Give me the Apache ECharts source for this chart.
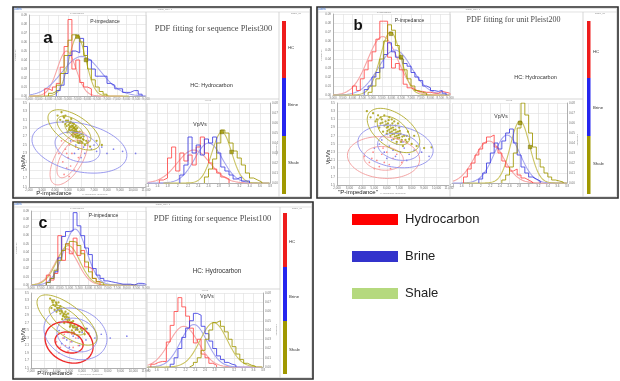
<!DOCTYPE html>
<html><head><meta charset="utf-8">
<script src="https://cdn.jsdelivr.net/npm/echarts/dist/echarts.min.js"></script>
<style>html,body{margin:0;padding:0;background:#fff}#c{width:620px;height:381px}</style>
</head><body><div id="c"></div>
<script>
// ---------------- DATA ----------------
const classNames = ['Hydrocarbon', 'Brine', 'Shale'];
const colorbarLabels = ['HC', 'Brine', 'Shale'];
const panelLetters = ['a', 'b', 'c'];
const panelTitles = ['PDF fitting for sequence Pleist300', 'PDF fitting for unit Pleist200', 'PDF fitting for sequence Pleist100'];
const pimpBinStart = 3000, pimpBinWidth = 200;
const vpvsBinStart = 1.4, vpvsBinWidth = 0.08;

// panel a
const a_pimp_hc    = [0,0,0,0,8,6,10,14,32,55,85,30,40,15,10,8,0,0,0,0,0,0,0,0,0,0,0,0,0,0];
const a_pimp_brine = [0,0,0,0,0,0,0,6,12,25,45,50,48,64,55,40,30,22,22,22,14,12,8,8,4,4,6,6,2,0];
const a_pimp_shale = [0,0,0,0,0,3,5,12,25,45,62,68,66,60,45,30,18,10,5,2,0,0,0,0,0,0,0,0,0,0];
const a_vpvs_hc    = [0,0,0,3,5,25,36,12,30,22,28,18,36,46,30,20,14,10,6,4,0,0,0,0,0,0,0,0,0,0];
const a_vpvs_brine = [0,0,0,0,0,0,0,0,8,18,46,30,38,28,44,40,46,30,16,12,8,4,6,2,2,0,0,0,0,0];
const a_vpvs_shale = [0,0,0,0,0,0,0,0,0,0,0,0,0,0,6,14,24,40,53,50,40,32,25,18,10,5,3,1,0,0];
const a_pimp_fit_hc = [4930,480,50], a_pimp_fit_brine = [5700,1000,44], a_pimp_fit_shale = [5480,440,66];
const a_vpvs_fit_hc = [2.31,0.32,33], a_vpvs_fit_brine = [2.6,0.27,40], a_vpvs_fit_shale = [2.86,0.19,51];
const a_pimp_marks = [[5480,66],[5920,40]];
const a_vpvs_marks = [[2.86,51],[3.05,31]];
const a_ell_hc    = [[5080,2.18,1460,0.63,0.6],[5110,2.17,960,0.45,0.6]];
const a_ell_brine = [[5880,2.44,3650,0.61,-0.3],[5730,2.45,1730,0.36,-0.3]];
const a_ell_shale = [[5460,2.86,2000,0.48,-0.6],[5460,2.86,1300,0.33,-0.6],[5460,2.86,700,0.18,-0.6]];
const a_pts_shale = [[4200,3.2],[4400,3.1],[4500,3.28],[4600,3.05],[4700,3.15],[4800,3.0],[4900,2.95],[5000,3.08],[5100,2.9],[5150,3.02],[5200,2.85],[5300,2.96],[5350,2.8],[5400,2.9],[5450,2.84],[5500,2.76],[5550,2.88],[5600,2.8],[5650,2.7],[5700,2.78],[5750,2.66],[5800,2.72],[5900,2.6],[6000,2.68],[6100,2.56],[6200,2.62],[6300,2.5],[6500,2.56],[6700,2.46],[5250,3.12],[5600,2.95],[4950,2.8],[6050,2.76],[5800,2.55],[5400,2.7],[7200,2.6],[7600,2.5],[5050,2.98],[5500,2.92],[5700,2.9],[5900,2.74],[6200,2.7],[4800,3.2],[5350,3.02],
  [5250,2.92],[5320,2.86],[5380,2.95],[5420,2.78],[5480,2.9],[5520,2.82],[5580,2.74],[5620,2.86],[5680,2.82],[5720,2.72],[5780,2.8],[5850,2.68],[5950,2.66],[5150,2.94],[5080,2.86],[5300,2.74],[5600,2.68],[5900,2.82],[6150,2.64],[6400,2.6],[4850,3.08],[4650,3.18],[5200,3.05],[5450,3.0],[5750,2.6],[6000,2.58]];
const a_pts_brine = [[5200,2.6],[5600,2.5],[5900,2.55],[6200,2.45],[6500,2.5],[6800,2.4],[7200,2.35],[7600,2.45],[8000,2.3],[8500,2.4],[9200,2.35],[10200,2.3],[5500,2.3],[6000,2.2],[6600,2.6],[7000,2.5],[6300,2.3],[5800,2.4]];
const a_pts_hc    = [[4300,2.3],[4600,2.1],[4800,2.4],[4900,1.95],[5000,2.2],[5100,2.5],[5200,2.0],[5300,2.3],[5400,2.6],[5500,1.9],[4700,1.8],[5600,2.45],[5800,2.2],[4500,2.6],[5100,1.75],[4900,2.3]];

// panel b
const b_pimp_hc    = [0,0,0,0,0,10,5,18,28,38,48,62,82,82,42,30,35,28,12,8,6,4,4,3,3,2,2,4,3,2];
const b_pimp_brine = [0,0,0,0,0,0,0,0,6,10,20,25,30,45,58,48,42,40,35,32,25,20,16,10,8,5,4,5,2,0];
const b_pimp_shale = [0,0,0,0,0,0,0,0,0,3,10,18,40,60,78,72,55,40,28,18,10,5,3,2,0,0,0,0,0,0];
const b_vpvs_hc    = [0,0,0,6,14,20,28,34,40,46,48,36,30,22,16,12,14,8,5,3,1,0,0,0,0,0,0,0,0,0];
const b_vpvs_brine = [0,0,0,0,0,0,0,4,10,20,30,40,34,42,50,54,40,28,16,10,6,4,2,0,0,0,0,0,0,0];
const b_vpvs_shale = [0,0,0,0,0,0,0,0,0,0,0,0,0,3,8,16,30,55,80,68,50,36,24,16,10,6,3,2,1,0];
const b_pimp_fit_hc = [5550,770,65], b_pimp_fit_brine = [6180,850,50], b_pimp_fit_shale = [5950,525,70];
const b_vpvs_fit_hc = [2.17,0.3,42], b_vpvs_fit_brine = [2.55,0.27,48], b_vpvs_fit_shale = [2.82,0.2,62];
const b_pimp_marks = [[5975,68],[6490,42]];
const b_vpvs_marks = [[2.82,60],[3.03,36]];
const b_ell_hc    = [[5740,2.17,2900,0.51,-0.1],[5740,2.15,1590,0.29,-0.1]];
const b_ell_brine = [[6700,2.44,3025,0.52,-0.2],[6970,2.43,1710,0.33,-0.2]];
const b_ell_shale = [[6540,2.83,2110,0.54,-0.5],[6540,2.83,1300,0.35,-0.5]];
const b_pts_shale = [[4400,3.3],[4700,3.15],[4900,3.25],[5100,3.05],[5300,3.2],[5500,3.0],[5600,3.1],[5800,2.95],[5900,3.05],[6000,2.9],[6100,3.0],[6200,2.85],[6300,2.95],[6400,2.8],[6500,2.9],[6600,2.75],[6700,2.85],[6800,2.7],[6900,2.8],[7000,2.65],[7100,2.75],[7200,2.6],[7400,2.7],[7600,2.55],[7800,2.62],[8000,2.5],[8400,2.45],[9000,2.4],[9600,2.42],[5700,2.8],[6300,2.7],[6600,3.05],[6000,2.75],[7000,2.9],[5400,2.9],[6800,2.55],[7300,2.45],[6200,3.15],[5800,3.2],[6900,3.0],[7700,2.8],[8200,2.7],
  [6100,2.92],[6250,2.78],[6350,2.88],[6450,2.74],[6550,2.84],[6650,2.68],[6750,2.78],[6850,2.64],[6950,2.72],[7050,2.82],[6150,3.08],[6450,3.0],[5950,2.98],[5650,3.02],[6700,2.95],[7250,2.68],[7500,2.6],[5500,3.15],[6050,2.82],[6550,2.62],[7150,2.55],[5200,3.1],[6400,3.1],[7600,2.7]];
const b_pts_brine = [[5000,2.4],[5400,2.5],[5800,2.3],[6200,2.45],[6500,2.35],[6800,2.5],[7100,2.3],[7400,2.4],[7800,2.25],[8200,2.35],[8800,2.3],[9400,2.2],[6000,2.15],[6700,2.2],[7300,2.55],[5600,2.6],[7600,2.1],[6400,2.6]];
const b_pts_hc    = [[4200,2.2],[4600,2.05],[4900,2.3],[5200,2.1],[5400,1.95],[5600,2.25],[5800,2.05],[6000,2.3],[6200,2.0],[6500,2.15],[6800,2.25],[7200,2.05],[5000,1.9],[5700,2.4],[6300,1.9],[4800,2.15]];

// panel c
const c_pimp_hc    = [0,0,0,0,12,6,14,60,30,50,38,57,36,42,22,20,8,4,0,0,0,0,0,0,0,0,0,0,0,0];
const c_pimp_brine = [0,0,0,0,3,8,16,33,59,65,66,88,72,60,45,37,20,12,8,5,4,3,2,1,1,1,0,2,2,1];
const c_pimp_shale = [0,0,0,0,3,8,18,30,42,50,53,52,48,38,28,16,8,4,2,0,0,0,0,0,0,0,0,0,0,0];
const c_vpvs_hc    = [0,3,5,6,6,27,45,60,75,65,55,42,26,30,14,10,4,2,0,0,0,0,0,0,0,0,0,0,0,0];
const c_vpvs_brine = [0,0,0,0,0,0,3,10,20,32,42,50,58,56,44,36,28,20,12,8,5,3,2,0,0,0,0,0,0,0];
const c_vpvs_shale = [0,0,0,0,0,0,0,0,0,0,0,2,5,10,18,30,40,48,50,44,38,30,22,14,8,4,2,1,0,0];
const c_pimp_fit_hc = [4860,600,44], c_pimp_fit_brine = [5300,600,68], c_pimp_fit_shale = [4950,600,48];
const c_vpvs_fit_hc = [2.16,0.3,44], c_vpvs_fit_brine = [2.37,0.27,46], c_vpvs_fit_shale = [2.78,0.28,48];
const c_pimp_marks = [];
const c_vpvs_marks = [];
const c_ell_hc    = [[4980,2.18,1880,0.55,-0.2],[4980,2.18,1100,0.28,-0.2]];
const c_ell_brine = [[5480,2.41,2470,0.69,-0.2],[5600,2.38,1570,0.45,-0.2]];
const c_ell_shale = [[4820,2.78,2350,0.67,-0.7],[4820,2.78,1400,0.4,-0.7]];
const c_pts_shale = [[3500,3.35],[3700,3.25],[3800,3.3],[3900,3.15],[4000,3.2],[4100,3.05],[4200,3.1],[4300,2.95],[4400,3.02],[4500,2.88],[4600,2.95],[4700,2.8],[4800,2.86],[4900,2.72],[5000,2.78],[5100,2.65],[5200,2.7],[5300,2.58],[5400,2.64],[5500,2.52],[5600,2.58],[5800,2.46],[6000,2.5],[6200,2.4],[6500,2.42],[4000,3.0],[4300,3.15],[4600,2.7],[4900,2.95],[5200,2.5],[5700,2.62],[3600,3.1],[4450,2.8],[5050,2.6],[6300,2.55],[4150,3.25],[3850,3.05],[5350,2.45],
  [3650,3.3],[3950,3.25],[4050,3.1],[4250,3.02],[4350,3.08],[4550,2.92],[4650,2.86],[4750,2.92],[4850,2.78],[4950,2.84],[5150,2.72],[5250,2.62],[5450,2.58],[5650,2.52],[3750,3.18],[4450,2.98],[5050,2.7],[4700,3.0],[5300,2.75],[5900,2.55]];
const c_pts_brine = [[4200,2.5],[4600,2.3],[4900,2.45],[5200,2.2],[5400,2.4],[5700,2.3],[6000,2.45],[6300,2.25],[6600,2.35],[7000,2.3],[7500,2.4],[8200,2.3],[9500,2.35],[5000,2.05],[5800,2.1],[6400,2.55],[4400,2.15],[5600,2.55],[4800,2.25],[5300,2.35]];
const c_pts_hc    = [[4000,2.2],[4300,2.05],[4500,2.3],[4700,2.1],[4900,1.95],[5100,2.2],[5300,2.05],[5500,2.3],[5700,2.1],[6000,2.2],[4600,2.4],[5200,2.4],[5800,1.95],[4200,1.9]];

// ---------------- LAYOUT / STYLE ----------------
const FONT = '"Liberation Sans", Arial, sans-serif';
const SERIF = '"Liberation Serif", "Times New Roman", serif';
const HIST_COL = ['#ff4a4a', '#4040e2', '#a09800'];
const FIT_COL  = ['#f6a6a6', '#a6a6ef', '#cbc465'];
const ELL_COL  = ['#f29a9a', '#8e8eec', '#b0a928'];
const CB_COL   = ['#ee1c1c', '#2525ee', '#a09800'];
const LEG_COL  = ['#ff0000', '#3333cc', '#b5d97e'];

const PANELS = [
  { frame:[13,7,298,191], hist:[29,15,117,81], cross:[29,103,117,84], vpvs:[147,103,123,80],
    vsep:[146,9,197], hsep:[14,279,99], cbsep:[279,9,197], tool:[14,310,12],
    cb:{x:282,w:4,y:[21,78,136,194]}, cbLab:{x:288,y:[48,105,163]}, cbTitle:[296,13],
    letter:[48,38,17], title:[213.5,29,8.5], hc:[211.5,85,5.5], pimpLab:[105,22], vpvsLab:[200,125],
    histTitle:[77,13.3], vpvsTitle:[208,100.8], bottom:[54,193,'P-impedance'], vpvsRot:[23,162],
    freqL:[15,55], freqR:[277,150], toolL:[18,9.5], toolC:[165,9.5], crossName:[95,194],
    ellRedW:0.9, redEll:'#f29a9a',
    hists:[[a_pimp_hc,a_pimp_brine,a_pimp_shale],[a_vpvs_hc,a_vpvs_brine,a_vpvs_shale]],
    fits:[[a_pimp_fit_hc,a_pimp_fit_brine,a_pimp_fit_shale],[a_vpvs_fit_hc,a_vpvs_fit_brine,a_vpvs_fit_shale]],
    marks:[a_pimp_marks,a_vpvs_marks], ells:[a_ell_hc,a_ell_brine,a_ell_shale], pts:[a_pts_hc,a_pts_brine,a_pts_shale] },
  { frame:[317,7,301,191], hist:[333,14,117,81], cross:[337,103,112,82], vpvs:[452,103,115,80],
    vsep:[450,9,197], hsep:[318,583,99], cbsep:[583,9,197], tool:[318,617,12],
    cb:{x:587,w:3.5,y:[21,78,136,194]}, cbLab:{x:593,y:[52,108,164]}, cbTitle:[600,13],
    letter:[358,26,15], title:[513.5,20,8], hc:[535.5,77,5.5], pimpLab:[409.5,21], vpvsLab:[501,117],
    histTitle:[384,12.8], vpvsTitle:[509,100.8], bottom:[358,192,'"P-impedance"'], vpvsRot:[328,157],
    freqL:[321,55], freqR:[578,140], toolL:[322,9.5], toolC:[473,9.5], crossName:[393,193],
    ellRedW:0.9, redEll:'#f29a9a',
    hists:[[b_pimp_hc,b_pimp_brine,b_pimp_shale],[b_vpvs_hc,b_vpvs_brine,b_vpvs_shale]],
    fits:[[b_pimp_fit_hc,b_pimp_fit_brine,b_pimp_fit_shale],[b_vpvs_fit_hc,b_vpvs_fit_brine,b_vpvs_fit_shale]],
    marks:[b_pimp_marks,b_vpvs_marks], ells:[b_ell_hc,b_ell_brine,b_ell_shale], pts:[b_pts_hc,b_pts_brine,b_pts_shale] },
  { frame:[13,202,300,177], hist:[31,211,115,74], cross:[31,293,115,75], vpvs:[147,293,116,74],
    vsep:[146,204,378], hsep:[14,280,289], cbsep:[280,204,378], tool:[14,312,207],
    cb:{x:283,w:4,y:[213,267,321,374]}, cbLab:{x:289,y:[242,297,350]}, cbTitle:[297,208],
    letter:[43,224,16], title:[212.5,219,8.5], hc:[217,271,6.3], pimpLab:[103.5,216], vpvsLab:[207,297],
    histTitle:[77,208.3], vpvsTitle:[205,290.6], bottom:[55,373,'P-impedance'], vpvsRot:[23,335],
    freqL:[16,248], freqR:[277,330], toolL:[18,204.5], toolC:[163,204.5], crossName:[90,374],
    ellRedW:1.4, redEll:'#ee2a2a',
    hists:[[c_pimp_hc,c_pimp_brine,c_pimp_shale],[c_vpvs_hc,c_vpvs_brine,c_vpvs_shale]],
    fits:[[c_pimp_fit_hc,c_pimp_fit_brine,c_pimp_fit_shale],[c_vpvs_fit_hc,c_vpvs_fit_brine,c_vpvs_fit_shale]],
    marks:[c_pimp_marks,c_vpvs_marks], ells:[c_ell_hc,c_ell_brine,c_ell_shale], pts:[c_pts_hc,c_pts_brine,c_pts_shale] }
];

// ---------------- BUILD ----------------
function stepData(start, width, counts) {
  let i0 = 0; while (i0 < counts.length && !counts[i0]) i0++;
  let i1 = counts.length - 1; while (i1 >= 0 && !counts[i1]) i1--;
  const pts = [];
  if (i0 > i1) return pts;
  pts.push([start + i0 * width, 0]);
  for (let k = i0; k <= i1; k++) {
    const x0 = start + k * width, x1 = start + (k + 1) * width;
    pts.push([x0, counts[k]], [x1, counts[k]]);
  }
  pts.push([start + (i1 + 1) * width, 0]);
  return pts;
}
function gaussRenderer(color) {
  return function (params, api) {
    const m = api.value(0), s = api.value(1), p = api.value(2);
    const cs = params.coordSys;
    const pts = [];
    for (let k = 0; k <= 120; k++) {
      const x = m - 6 * s + 12 * s * k / 120;
      const pt = api.coord([x, p * Math.exp(-0.5 * Math.pow((x - m) / s, 2))]);
      if (pt[0] >= cs.x && pt[0] <= cs.x + cs.width) pts.push(pt);
    }
    return { type: 'polyline', silent: true, shape: { points: pts }, style: { stroke: color, fill: null, lineWidth: 1.1 } };
  };
}
function ellipseRenderer(color, width) {
  return function (params, api) {
    const cx = api.value(0), cy = api.value(1), rx = api.value(2), ry = api.value(3), rho = api.value(4);
    const q = Math.sqrt(1 - rho * rho);
    const pts = [];
    for (let k = 0; k <= 90; k++) {
      const t = k / 90 * 2 * Math.PI;
      pts.push(api.coord([cx + rx * Math.cos(t), cy + ry * (rho * Math.cos(t) + q * Math.sin(t))]));
    }
    return { type: 'polyline', silent: true, shape: { points: pts }, style: { stroke: color, fill: null, lineWidth: width } };
  };
}
function vAxis(gi, min, max, interval, pos, fmt) {
  return { type: 'value', gridIndex: gi, min, max, interval, position: pos,
    axisLine: { show: true, onZero: false, lineStyle: { color: '#a0a0a0', width: 0.8 } },
    axisTick: { show: false },
    splitLine: { show: true, lineStyle: { color: '#e2e2e2', width: 0.7 } },
    axisLabel: { fontSize: 3, color: '#707070', margin: 2, fontFamily: FONT, formatter: fmt } };
}
function T(x, y, text, size, o) {
  o = o || {};
  return { type: 'text', x, y, rotation: o.rot || 0, silent: true, z: 100,
    style: { text, fill: o.color || '#333', font: (o.weight || 'normal') + ' ' + size + 'px ' + (o.family || FONT),
      textAlign: o.align || 'center', textVerticalAlign: 'middle', align: o.align || 'center', verticalAlign: 'middle' } };
}
function L(x1, y1, x2, y2, c, w) {
  return { type: 'line', silent: true, z: 90, shape: { x1, y1, x2, y2 }, style: { stroke: c, lineWidth: w } };
}
function R(x, y, w, h, fill, stroke, lw) {
  return { type: 'rect', silent: true, z: 95, shape: { x, y, width: w, height: h }, style: { fill: fill || null, stroke: stroke || null, lineWidth: lw || 0 } };
}

const grid = [], xAxis = [], yAxis = [], series = [], gfx = [];
const fmtProb = v => (v / 1000).toFixed(2);
PANELS.forEach((P, pi) => {
  const g = grid.length;
  [P.hist, P.cross, P.vpvs].forEach(r => grid.push({ left: r[0], top: r[1], width: r[2], height: r[3], containLabel: false }));
  xAxis.push(vAxis(g, 3000, 9000, 500, 'bottom'), vAxis(g + 1, 2000, 11000, 1000, 'bottom'), vAxis(g + 2, 1.4, 3.8, 0.2, 'bottom'));
  yAxis.push(vAxis(g, 0, 90, 10, 'left', fmtProb), vAxis(g + 1, 1.5, 3.5, 0.2, 'left'), vAxis(g + 2, 0, 80, 10, 'right', fmtProb));
  const plots = [{ gi: g, start: pimpBinStart, w: pimpBinWidth }, { gi: g + 2, start: vpvsBinStart, w: vpvsBinWidth }];
  plots.forEach((pl, j) => {
    for (let c = 0; c < 3; c++) {
      series.push({ type: 'custom', name: classNames[c], xAxisIndex: pl.gi, yAxisIndex: pl.gi, z: 2,
        data: [P.fits[j][c]], renderItem: gaussRenderer(FIT_COL[c]), animation: false, silent: true });
    }
    for (let c = 0; c < 3; c++) {
      series.push({ type: 'line', name: classNames[c], xAxisIndex: pl.gi, yAxisIndex: pl.gi, z: 3,
        data: stepData(pl.start, pl.w, P.hists[j][c]), showSymbol: false, silent: true, animation: false,
        lineStyle: { color: HIST_COL[c], width: 1, opacity: 0.85 }, itemStyle: { color: HIST_COL[c] } });
    }
    if (P.marks[j].length) {
      series.push({ type: 'scatter', name: 'Shale', xAxisIndex: pl.gi, yAxisIndex: pl.gi, z: 5, data: P.marks[j],
        symbol: 'rect', symbolSize: 3.6, silent: true, animation: false,
        itemStyle: { color: '#a19900', borderColor: '#5e5900', borderWidth: 0.5 } });
    }
  });
  // crossplot
  const cg = g + 1;
  [2, 1, 0].forEach(c => {
    series.push({ type: 'scatter', name: classNames[c], xAxisIndex: cg, yAxisIndex: cg, z: 2, data: P.pts[c],
      symbolSize: c === 2 ? 2.3 : 1.7, silent: true, animation: false,
      itemStyle: { color: HIST_COL[c], opacity: c === 2 ? 0.8 : 0.65 } });
  });
  [0, 1, 2].forEach(c => {
    const col = c === 0 ? P.redEll : ELL_COL[c];
    const wd = c === 0 ? P.ellRedW : 0.9;
    series.push({ type: 'custom', name: classNames[c], xAxisIndex: cg, yAxisIndex: cg, z: 3,
      data: P.ells[c], renderItem: ellipseRenderer(col, wd), animation: false, silent: true });
  });

  // frame & separators
  const f = P.frame;
  gfx.push(R(f[0], f[1], f[2], f[3], null, '#2b2b2b', 1.6));
  gfx.push(R(f[0] + 1.5, f[1] + 1.5, f[2] - 3, f[3] - 3, null, '#cfcfcf', 0.6));
  gfx.push(L(P.tool[0], P.tool[2], P.tool[1], P.tool[2], '#d6d6d6', 0.7));
  gfx.push(L(P.vsep[0], P.vsep[1] + 3, P.vsep[0], P.vsep[2], '#cdcdcd', 0.8));
  gfx.push(L(P.hsep[0], P.hsep[2], P.hsep[1], P.hsep[2], '#cdcdcd', 0.8));
  gfx.push(L(P.cbsep[0], P.cbsep[1] + 3, P.cbsep[0], P.cbsep[2], '#cdcdcd', 0.8));
  // colorbar
  for (let c = 0; c < 3; c++) {
    gfx.push(R(P.cb.x, P.cb.y[c], P.cb.w, P.cb.y[c + 1] - P.cb.y[c], CB_COL[c]));
    gfx.push(T(P.cbLab.x, P.cbLab.y[c], colorbarLabels[c], 4.3, { align: 'left', color: '#333' }));
  }
  gfx.push(T(P.cbTitle[0], P.cbTitle[1], 'Scale_hc', 2.4, { color: '#888' }));
  // texts
  gfx.push(T(P.letter[0], P.letter[1], panelLetters[pi], P.letter[2], { weight: 'bold', color: '#111' }));
  gfx.push(T(P.title[0], P.title[1], panelTitles[pi], P.title[2], { family: SERIF, color: '#4a4a4a' }));
  gfx.push(T(P.hc[0], P.hc[1], 'HC: Hydrocarbon', P.hc[2], { color: '#333' }));
  gfx.push(T(P.pimpLab[0], P.pimpLab[1], 'P-impedance', 5, { color: '#333' }));
  gfx.push(T(P.vpvsLab[0], P.vpvsLab[1], 'Vp/Vs', 5, { color: '#333' }));
  gfx.push(T(P.histTitle[0], P.histTitle[1], 'P-impedance', 2.4, { color: '#888' }));
  gfx.push(T(P.vpvsTitle[0], P.vpvsTitle[1], 'Vp/Vs', 2.4, { color: '#888' }));
  gfx.push(T(P.crossName[0], P.crossName[1], 'P-impedance (g/cc*m/s)', 2.4, { color: '#888' }));
  gfx.push(T(P.bottom[0], P.bottom[1], P.bottom[2], 6, { color: '#222' }));
  gfx.push(T(P.vpvsRot[0], P.vpvsRot[1], 'Vp/Vs', 5.5, { color: '#222', rot: Math.PI / 2 }));
  gfx.push(T(P.freqL[0], P.freqL[1], 'Frequency', 2.4, { color: '#888', rot: Math.PI / 2 }));
  gfx.push(T(P.freqR[0], P.freqR[1], 'Frequency', 2.4, { color: '#888', rot: -Math.PI / 2 }));
  gfx.push(T(P.toolL[0], P.toolL[1], 'Labels', 2.6, { color: '#3a6fd0' }));
  gfx.push(T(P.toolC[0], P.toolC[1], 'pdfsd_PRJ_1', 2.4, { color: '#888' }));
});

const chart = echarts.init(document.getElementById('c'), null, { renderer: 'canvas' });
chart.setOption({
  animation: false,
  backgroundColor: '#ffffff',
  grid, xAxis, yAxis, series,
  legend: {
    orient: 'vertical', left: 347, top: 208, itemWidth: 46, itemHeight: 11, itemGap: 24,
    icon: 'rect', selectedMode: false,
    textStyle: { fontSize: 13, color: '#222', fontFamily: FONT, padding: [0, 0, 0, 2] },
    data: classNames.map((n, i) => ({ name: n, icon: 'rect', itemStyle: { color: LEG_COL[i], borderWidth: 0 } }))
  },
  graphic: { elements: gfx }
});
</script></body></html>
